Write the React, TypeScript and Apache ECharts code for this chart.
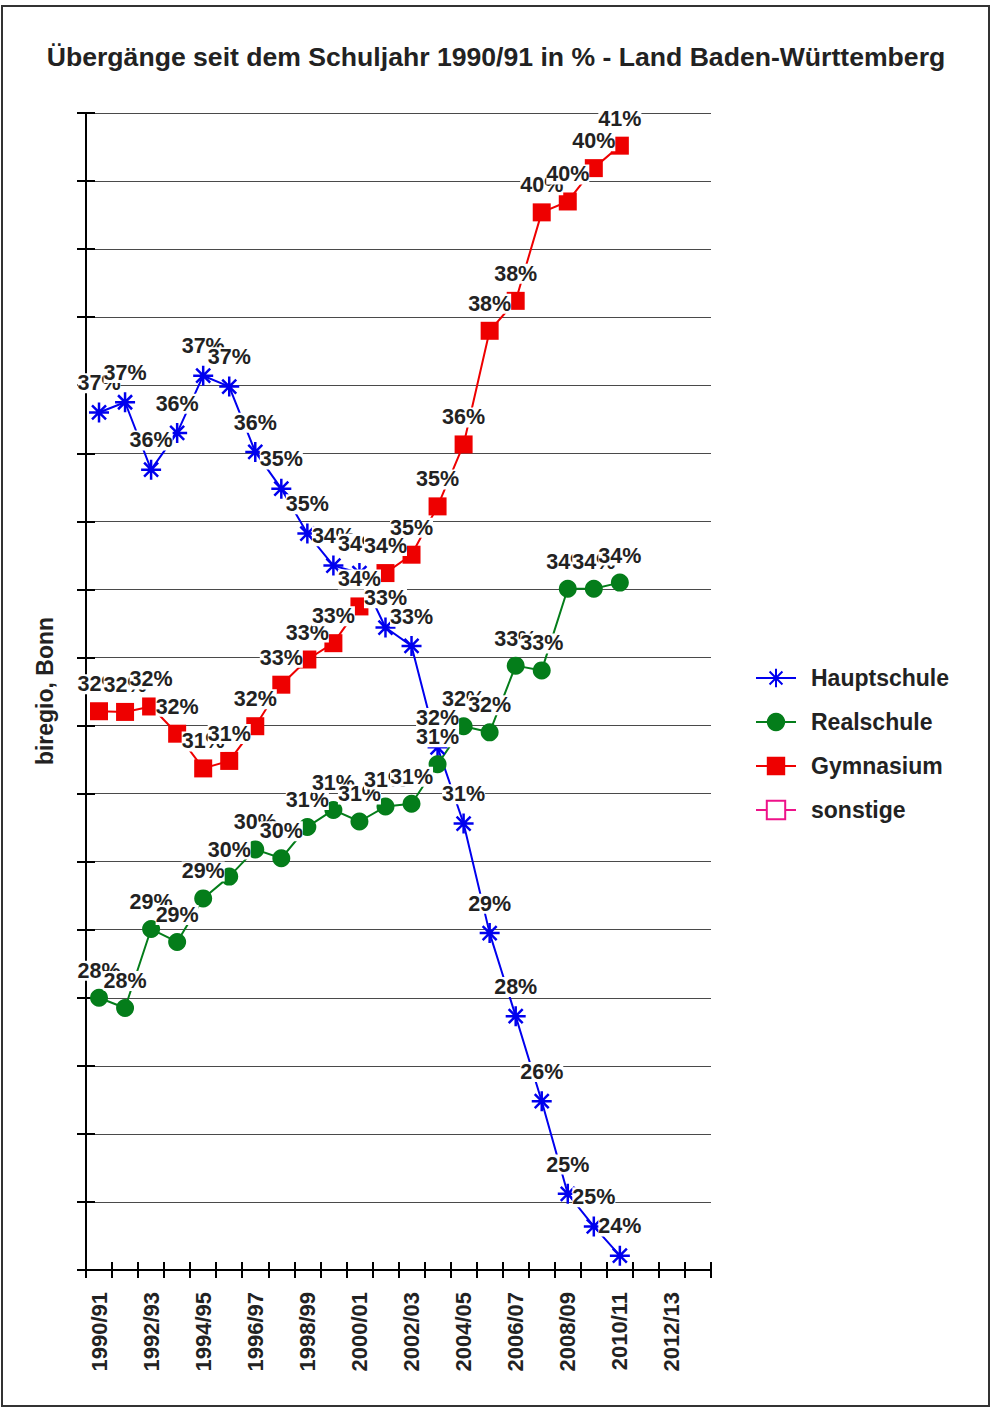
import React, { useEffect, useRef } from "react";
import * as echarts from "echarts";

const years = [
  "1990/91", "1991/92", "1992/93", "1993/94", "1994/95", "1995/96", "1996/97", "1997/98",
  "1998/99", "1999/00", "2000/01", "2001/02", "2002/03", "2003/04", "2004/05", "2005/06",
  "2006/07", "2007/08", "2008/09", "2009/10", "2010/11", "2011/12", "2012/13", "2013/14",
];

const hauptschule = [
  36.6, 36.75, 35.76, 36.3, 37.14, 36.98, 36.02, 35.48, 34.82, 34.35, 34.24,
  33.44, 33.17, 31.68, 30.56, 28.95, 27.73, 26.48, 25.12, 24.64, 24.21,
];
const realschule = [
  28.0, 27.85, 29.01, 28.82, 29.46, 29.78, 30.18, 30.05, 30.51, 30.76, 30.59,
  30.81, 30.85, 31.43, 31.99, 31.9, 32.88, 32.81, 34.01, 34.01, 34.1,
];
const gymnasium = [
  32.21, 32.2, 32.28, 31.88, 31.37, 31.48, 31.99, 32.6, 32.97, 33.21, 33.75,
  34.24, 34.51, 35.22, 36.13, 37.8, 38.24, 39.54, 39.7, 40.19, 40.52,
];
const sonstige: number[] = [];

const titleText = "Übergänge seit dem Schuljahr 1990/91 in % - Land Baden-Württemberg";
const sourceText = "biregio, Bonn";

const STAR = "path://M10,0L10,20M0,10L20,10M3,3L17,17M3,17L17,3";
const TEXT = "#222222";
const FONT = "'Liberation Sans', Arial, sans-serif";

function labelCfg() {
  return {
    show: true,
    position: "top",
    distance: 8,
    formatter: (p: any) => Math.round(p.value) + "%",
    color: TEXT,
    fontWeight: "bold",
    fontSize: 21.5,
    fontFamily: FONT,
    backgroundColor: "#ffffff",
    padding: [0, 0, 0, 0],
    lineHeight: 20,
  };
}

export default function App() {
  const ref = useRef<HTMLDivElement>(null);
  useEffect(() => {
    if (!ref.current) return;
    const chart = echarts.init(ref.current, undefined, { renderer: "svg" });
    const yCommon = {
      type: "value",
      min: 24,
      max: 41,
      interval: 1,
      axisLabel: { show: false },
    };
    const xCommon = {
      type: "category",
      data: years,
      boundaryGap: true,
      position: "bottom",
    };
    const seriesCommon = {
      type: "line",
      showSymbol: true,
      showAllSymbol: true,
      label: labelCfg(),
      labelLayout: { hideOverlap: false },
    };
    chart.setOption({
      animation: false,
      backgroundColor: "#ffffff",
      title: {
        text: titleText,
        left: "center",
        top: 38,
        textStyle: { fontFamily: FONT, fontWeight: "bold", fontSize: 26.6, color: TEXT },
      },
      legend: {
        orient: "vertical",
        left: 755,
        top: 666,
        padding: 0,
        itemWidth: 40,
        itemHeight: 23,
        itemGap: 20,
        data: ["Hauptschule", "Realschule", "Gymnasium", "sonstige"],
        textStyle: {
          fontFamily: FONT,
          fontWeight: "bold",
          fontSize: 23,
          color: TEXT,
          lineHeight: 24,
          padding: [0, 0, 0, 10],
        },
      },
      grid: { left: 86, right: 281, top: 113, bottom: 140, containLabel: false },
      xAxis: [
        {
          ...xCommon,
          axisLine: { show: true, lineStyle: { color: "#000", width: 2 } },
          axisTick: { show: true, interval: 0, length: 8, lineStyle: { color: "#000", width: 2 } },
          axisLabel: {
            interval: 1,
            rotate: 90,
            margin: 22,
            fontFamily: FONT,
            fontWeight: "bold",
            fontSize: 22,
            color: TEXT,
          },
          splitLine: { show: false },
        },
        {
          ...xCommon,
          axisLine: { show: false },
          axisTick: { show: true, inside: true, interval: 0, length: 8, lineStyle: { color: "#000", width: 2 } },
          axisLabel: { show: false },
          splitLine: { show: false },
        },
      ],
      yAxis: [
        {
          ...yCommon,
          axisLine: { show: true, lineStyle: { color: "#000", width: 2 } },
          axisTick: { show: true, length: 9, lineStyle: { color: "#000", width: 2 } },
          splitLine: { show: true, lineStyle: { color: "#4a4a4a", width: 1.2 } },
        },
        {
          ...yCommon,
          position: "left",
          axisLine: { show: false },
          axisTick: { show: true, inside: true, length: 9, lineStyle: { color: "#000", width: 2 } },
          splitLine: { show: false },
        },
      ],
      graphic: [
        {
          type: "rect",
          shape: { x: 2, y: 6, width: 987, height: 1400 },
          style: { fill: "none", stroke: "#333", lineWidth: 2 },
          silent: true,
        },
        {
          type: "text",
          x: 45,
          y: 691,
          rotation: Math.PI / 2,
          style: {
            text: sourceText,
            font: "bold 23px 'Liberation Sans', Arial, sans-serif",
            fill: TEXT,
            align: "center",
            verticalAlign: "middle",
          },
        },
      ],
      series: [
        {
          ...seriesCommon,
          name: "Hauptschule",
          data: hauptschule,
          symbol: STAR,
          symbolSize: 20,
          itemStyle: { color: "#0000ee", borderColor: "#0000ee", borderWidth: 2.5 },
          lineStyle: { color: "#0000ee", width: 2 },
        },
        {
          ...seriesCommon,
          name: "Realschule",
          data: realschule,
          symbol: "circle",
          symbolSize: 18,
          itemStyle: { color: "#047d1a" },
          lineStyle: { color: "#047d1a", width: 2 },
        },
        {
          ...seriesCommon,
          name: "Gymnasium",
          data: gymnasium,
          symbol: "rect",
          symbolSize: 18,
          itemStyle: { color: "#ee0000" },
          lineStyle: { color: "#ee0000", width: 2 },
        },
        {
          ...seriesCommon,
          name: "sonstige",
          data: sonstige,
          symbol: "emptyRect",
          symbolSize: 16,
          itemStyle: { color: "#ee1289", borderColor: "#ee1289", borderWidth: 2 },
          lineStyle: { color: "#ee1289", width: 2 },
        },
      ],
    });
    return () => chart.dispose();
  }, []);
  return (
    <div
      ref={ref}
      style={{ position: "absolute", left: 0, top: 0, width: 992, height: 1410 }}
    />
  );
}
